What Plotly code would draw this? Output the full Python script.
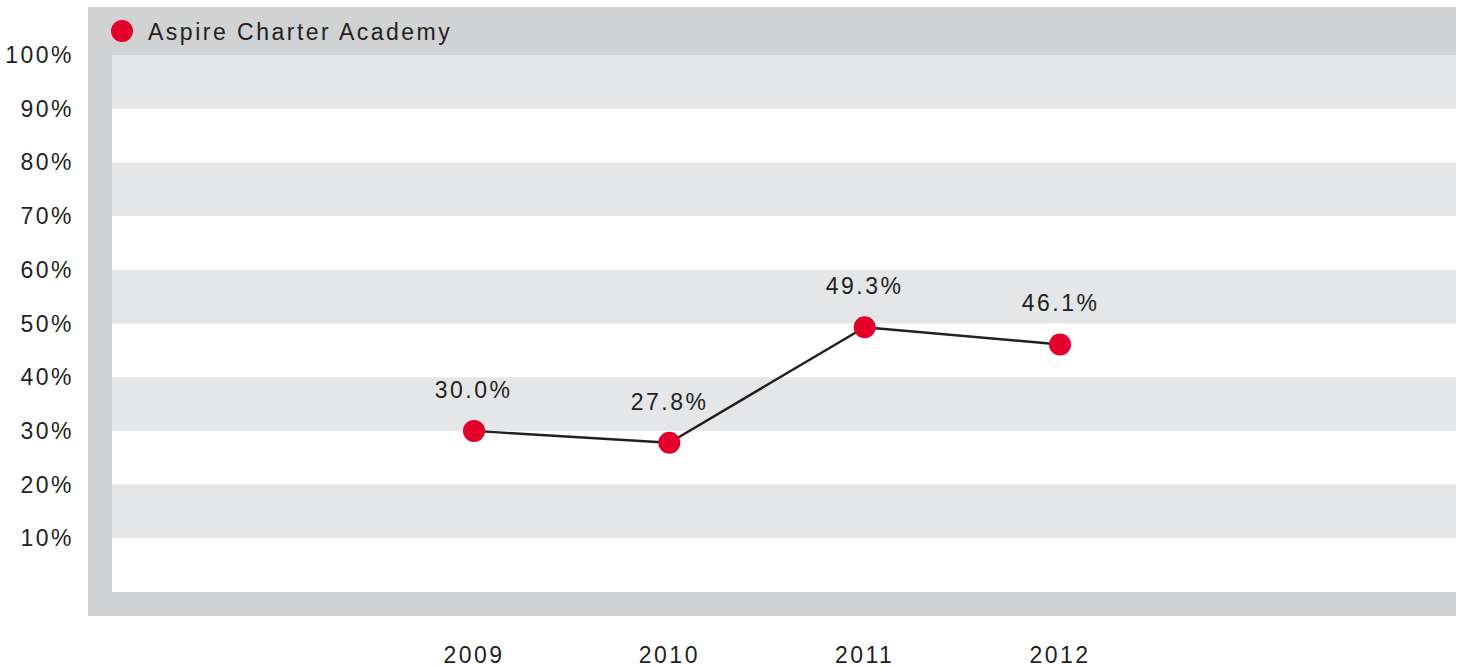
import plotly.graph_objects as go

years = [2009, 2010, 2011, 2012]
values = [30.0, 27.8, 49.3, 46.1]
series_name = "Aspire Charter Academy"
y_ticks = [10, 20, 30, 40, 50, 60, 70, 80, 90, 100]
y_tick_labels = [f"{v}%" for v in y_ticks]
x_tick_labels = [str(y) for y in years]
bands = [(10, 20), (30, 40), (50, 60), (70, 80), (90, 100)]

RED = "#e4002b"
DARK = "#231f20"
FRAME = "#d1d2d4"
BAND = "#e5e6e8"
FONT = "Liberation Sans, Arial, Helvetica, sans-serif"
FS = 23

fig = go.Figure()
fig.add_trace(go.Scatter(
    x=years, y=values, mode="lines", name=series_name,
    line=dict(color=DARK, width=2.4), showlegend=False, hoverinfo="skip",
))
fig.add_trace(go.Scatter(
    x=years, y=values, mode="markers", name=series_name,
    marker=dict(color=RED, size=22), showlegend=True,
))

for x, v in zip(years, values):
    fig.add_annotation(x=x, y=v, text=f"{v:.1f}%", showarrow=False,
                       yshift=41, yanchor="middle", xanchor="center",
                       font=dict(family=FONT, size=FS, color=DARK))

shapes = []
for lo, hi in bands:
    shapes.append(dict(type="rect", xref="paper", yref="y", x0=0, x1=1, y0=lo, y1=hi,
                       fillcolor=BAND, line=dict(width=0), layer="below"))
# frame bars
W, H = 1344.0, 537.0
xl = -24 / W
yb = -24 / H
yt = 1 + 48 / H
shapes.append(dict(type="rect", xref="paper", yref="paper", x0=xl, x1=1, y0=1, y1=yt,
                   fillcolor=FRAME, line=dict(width=0), layer="below"))
shapes.append(dict(type="rect", xref="paper", yref="paper", x0=xl, x1=1, y0=yb, y1=0,
                   fillcolor=FRAME, line=dict(width=0), layer="below"))
shapes.append(dict(type="rect", xref="paper", yref="paper", x0=xl, x1=0, y0=yb, y1=yt,
                   fillcolor=FRAME, line=dict(width=0), layer="below"))

fig.update_layout(
    width=1463, height=668,
    margin=dict(l=112, r=7, t=55, b=76, autoexpand=False),
    paper_bgcolor="white", plot_bgcolor="white",
    shapes=shapes,
    font=dict(family=FONT, size=FS, color=DARK),
    legend=dict(orientation="h", x=-0.0119, y=1 + 24 / H, xanchor="left", yanchor="middle",
                bgcolor="rgba(0,0,0,0)", itemwidth=42, entrywidth=420,
                font=dict(family=FONT, size=FS, color=DARK)),
    xaxis=dict(range=[2007.147, 2014.027], tickvals=years, ticktext=x_tick_labels,
               showgrid=False, zeroline=False, showline=False, ticks="",
               ticklabelstandoff=47, fixedrange=True),
    yaxis=dict(range=[0, 100], tickvals=y_ticks, ticktext=y_tick_labels,
               showgrid=False, zeroline=False, showline=False, ticks="",
               ticklabelstandoff=37, fixedrange=True),
)

post = """
document.body.style.margin = '0';
document.body.style.overflow = 'hidden';
var gd = document.getElementById('{plot_id}');
gd.querySelectorAll('text').forEach(function(t){ t.style.letterSpacing = '2.5px'; });
gd.querySelectorAll('.legendpoints path.scatterpts').forEach(function(p){
  p.setAttribute('d', 'M11,0A11,11 0 1,1 0,-11A11,11 0 0,1 11,0Z');
});
"""
fig.write_html("out.html", post_script=post, config={"displayModeBar": False})
